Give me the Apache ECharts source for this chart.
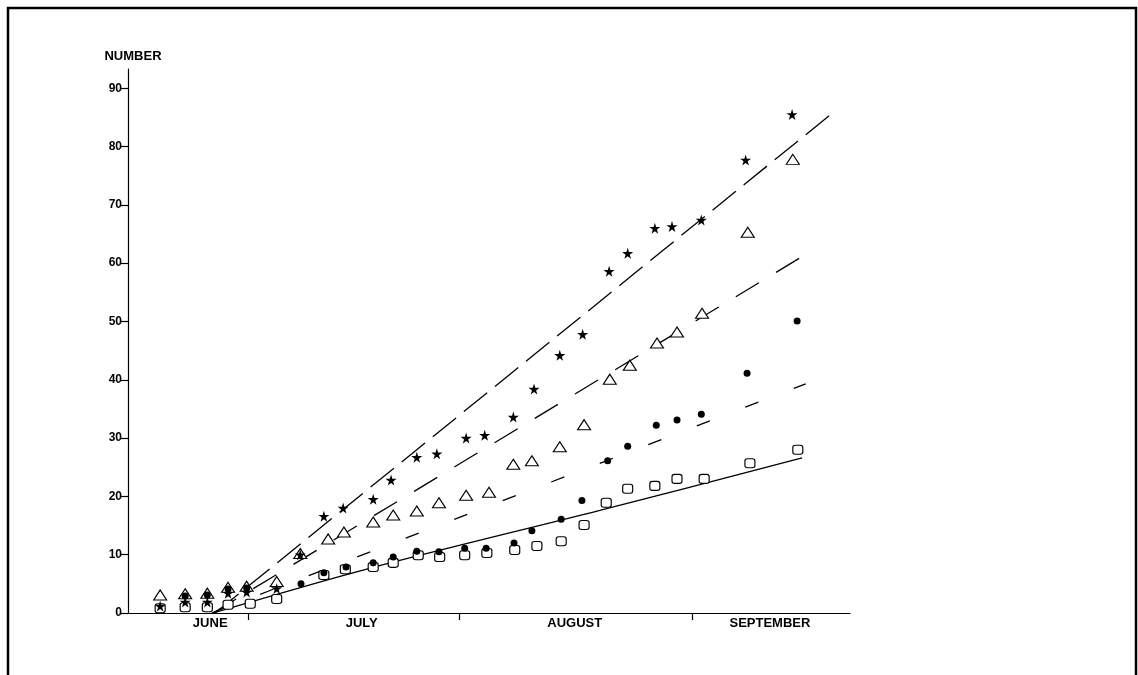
<!DOCTYPE html>
<html>
<head>
<meta charset="utf-8">
<script src="https://cdn.jsdelivr.net/npm/echarts@6/dist/echarts.min.js"></script>
<style>
html,body{margin:0;padding:0;background:#fff;}
#chart{width:1138px;height:675px;}
</style>
</head>
<body>
<div id="chart"></div>
<script>
// x values: days counted from 1 June (approximate positions)
const monthNames = ['JUNE', 'JULY', 'AUGUST', 'SEPTEMBER'];
const monthLabelDays = [25.5, 46.7, 76.5, 103.8];
const monthBoundaryDays = [30.8, 60.4, 92.9];
const yTickValues = [0, 10, 20, 30, 40, 50, 60, 70, 80, 90];

// Stars
const starDays = [18.5, 22.0, 25.1, 28.0, 30.6, 34.8, 38.1, 41.4, 44.1, 48.3, 50.8, 54.4, 57.2, 61.3, 63.9, 67.9, 70.8, 74.4, 77.6, 81.3, 83.9, 87.7, 90.1, 94.2, 100.4, 106.9];
const starValues = [1.2, 1.9, 1.9, 3.4, 3.6, 4.2, 10.0, 16.6, 18.0, 19.5, 22.8, 26.7, 27.3, 30.0, 30.5, 33.6, 38.4, 44.2, 47.8, 58.6, 61.7, 66.0, 66.3, 67.4, 77.7, 85.5];

// Open triangles
const triDays = [18.5, 22.0, 25.1, 28.0, 30.6, 34.8, 38.1, 42.0, 44.2, 48.3, 51.1, 54.4, 57.5, 61.3, 64.5, 67.9, 70.5, 74.4, 77.8, 81.4, 84.2, 88.0, 90.8, 94.3, 100.7, 107.0];
const triValues = [3.1, 3.3, 3.4, 4.4, 4.6, 5.4, 10.2, 12.7, 13.9, 15.6, 16.8, 17.5, 18.9, 20.2, 20.7, 25.5, 26.1, 28.5, 32.3, 40.1, 42.5, 46.3, 48.2, 51.4, 65.3, 77.8];

// Filled dots
const dotDays = [22.0, 25.1, 28.0, 30.6, 38.2, 41.4, 44.5, 48.3, 51.1, 54.4, 57.5, 61.1, 64.1, 68.0, 70.5, 74.6, 77.5, 81.1, 83.9, 87.9, 90.8, 94.2, 100.6, 107.6];
const dotValues = [2.9, 3.1, 4.1, 4.3, 5.0, 6.9, 7.9, 8.6, 9.6, 10.6, 10.5, 11.1, 11.1, 12.0, 14.1, 16.1, 19.3, 26.1, 28.6, 32.2, 33.1, 34.1, 41.1, 50.1];

// Open squares
const sqDays = [18.5, 22.0, 25.1, 28.0, 31.1, 34.8, 41.4, 44.4, 48.3, 51.1, 54.6, 57.6, 61.1, 64.2, 68.1, 71.2, 74.6, 77.8, 80.9, 83.9, 87.7, 90.8, 94.6, 101.0, 107.7];
const sqValues = [0.8, 1.0, 1.0, 1.4, 1.6, 2.4, 6.5, 7.5, 7.9, 8.6, 9.9, 9.6, 9.9, 10.3, 10.8, 11.5, 12.3, 15.1, 18.9, 21.3, 21.8, 23.0, 23.0, 25.7, 28.0];

// Fitted lines
const starFitDays = [26.2, 112.2];
const starFitValues = [0, 85.4];
const triFitDays = [25.9, 108.4];
const triFitValues = [0, 61.2];
const dotFitDays = [25.7, 108.8];
const dotFitValues = [0, 39.3];
const sqFitDays = [25.9, 47.9, 80.0, 108.3];
const sqFitValues = [0, 7.7, 17.6, 26.6];

function pairs(xs, ys) { return xs.map((x, i) => [x, ys[i]]); }

const INK = '#000';
const FONT = '"Liberation Sans", Arial, sans-serif';
const starPath = 'path://M50,0 L61,35 L98,35 L68,57 L79,91 L50,70 L21,91 L32,57 L2,35 L39,35 Z';

function fitLine(xs, ys, dash, smooth) {
  return {
    type: 'line', data: pairs(xs, ys), symbol: 'none', smooth: smooth || false,
    lineStyle: { color: INK, width: 1.3, type: dash, opacity: 1 }, z: 2, silent: true
  };
}

const chart = echarts.init(document.getElementById('chart'), null, { renderer: 'canvas' });
chart.setOption({
  backgroundColor: '#fff',
  animation: false,
  graphic: [{
    type: 'rect', shape: { x: 8, y: 8, width: 1128, height: 700 },
    style: { fill: 'none', stroke: '#000', lineWidth: 2.5 }, z: 0
  }],
  grid: { left: 128, right: 288, top: 69, bottom: 62 },
  xAxis: {
    type: 'value', min: 14, max: 115,
    splitLine: { show: false },
    axisLine: { show: true, onZero: false, lineStyle: { color: INK, width: 1.2 } },
    axisTick: { show: true, customValues: monthBoundaryDays, length: 7, inside: false, lineStyle: { color: INK, width: 1.2 } },
    axisLabel: {
      customValues: monthLabelDays,
      formatter: function (v) {
        let best = 0;
        monthLabelDays.forEach((d, i) => { if (Math.abs(d - v) < Math.abs(monthLabelDays[best] - v)) best = i; });
        return monthNames[best];
      },
      color: INK, fontFamily: FONT, fontWeight: 'bold', fontSize: 13, margin: 4
    }
  },
  yAxis: {
    type: 'value', min: 0, max: 93.3,
    name: 'NUMBER', nameLocation: 'end', nameGap: 6,
    nameTextStyle: { color: INK, fontFamily: FONT, fontWeight: 'bold', fontSize: 13, align: 'center', padding: [0, 0, 0, 10] },
    splitLine: { show: false },
    axisLine: { show: true, lineStyle: { color: INK, width: 1.2 } },
    axisTick: { show: true, customValues: yTickValues, length: 7, lineStyle: { color: INK, width: 1.2 } },
    axisLabel: { customValues: yTickValues, color: INK, fontFamily: FONT, fontWeight: 'bold', fontSize: 12, margin: 6 }
  },
  series: [
    fitLine(starFitDays, starFitValues, [30, 10]),
    fitLine(triFitDays, triFitValues, [27, 20]),
    fitLine(dotFitDays, dotFitValues, [14, 38]),
    fitLine(sqFitDays, sqFitValues, 'solid', 0.3),
    {
      type: 'scatter', data: pairs(sqDays, sqValues), symbol: 'roundRect', symbolSize: [10, 9],
      itemStyle: { color: '#fff', borderColor: INK, borderWidth: 1.1, opacity: 1 }, z: 3
    },
    {
      type: 'scatter', data: pairs(triDays, triValues), symbol: 'triangle', symbolSize: [13, 10],
      itemStyle: { color: '#fff', borderColor: INK, borderWidth: 1.1, opacity: 1 }, z: 4
    },
    {
      type: 'scatter', data: pairs(dotDays, dotValues), symbol: 'circle', symbolSize: 7,
      itemStyle: { color: INK, opacity: 1 }, z: 5
    },
    {
      type: 'scatter', data: pairs(starDays, starValues), symbol: starPath, symbolSize: 11,
      itemStyle: { color: INK, opacity: 1 }, z: 6
    }
  ]
});
</script>
</body>
</html>
